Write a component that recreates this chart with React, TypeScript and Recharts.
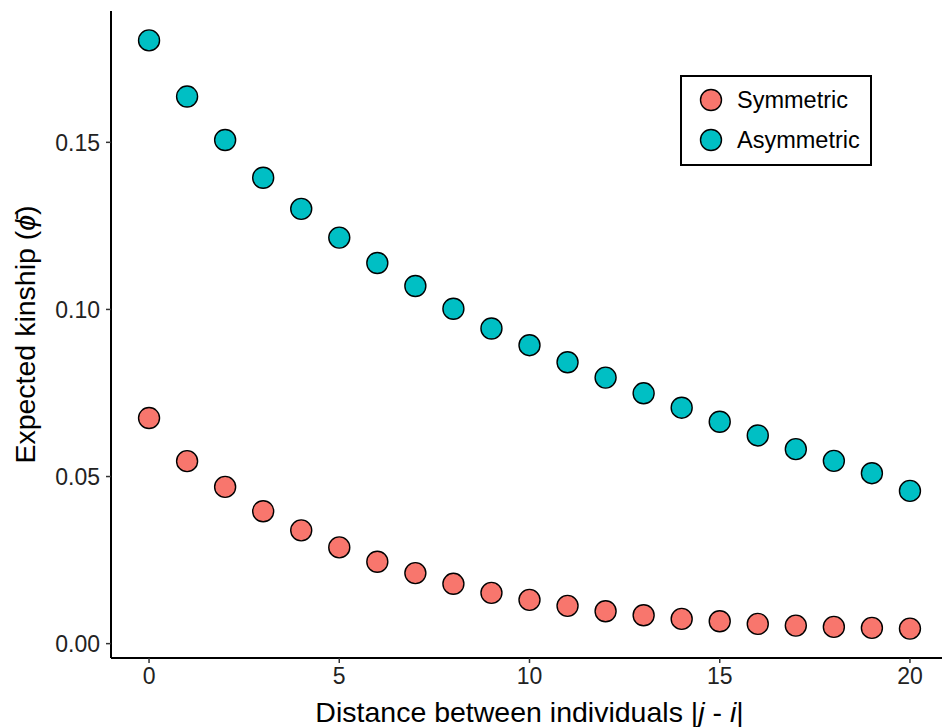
import { ScatterChart, Scatter, XAxis, YAxis, Legend, Label } from 'recharts';

// pairwise distance |j - i|
const distances = [0, 1, 2, 3, 4, 5, 6, 7, 8, 9, 10, 11, 12, 13, 14, 15, 16, 17, 18, 19, 20];

// expected kinship by dispersal model
const symmetric = [
  0.0675, 0.0546, 0.0469, 0.0396, 0.0339, 0.0288, 0.0245, 0.0211, 0.0179, 0.0152, 0.0131,
  0.0113, 0.0097, 0.0085, 0.0074, 0.0067, 0.0059, 0.0054, 0.005, 0.0047, 0.0045,
];
const asymmetric = [
  0.1805, 0.1637, 0.1507, 0.1394, 0.1301, 0.1215, 0.1139, 0.107, 0.1002, 0.0943, 0.0893,
  0.0842, 0.0796, 0.0749, 0.0706, 0.0664, 0.0623, 0.0582, 0.0547, 0.051, 0.0457,
];

const xTicks = [0, 5, 10, 15, 20];
const yTicks = [0, 0.05, 0.1, 0.15];

const SYM_COLOR = '#F8766D';
const ASYM_COLOR = '#00BFC4';
const FONT = '"Liberation Sans", Arial, sans-serif';

const symData = distances.map((d, i) => ({ x: d, y: symmetric[i] }));
const asymData = distances.map((d, i) => ({ x: d, y: asymmetric[i] }));

const Dot = (fill: string) => (props: any) => (
  <circle cx={props.cx} cy={props.cy} r={10.5} fill={fill} stroke="#000" strokeWidth={1.4} />
);

function LegendBox() {
  const items = [
    { name: 'Symmetric', color: SYM_COLOR },
    { name: 'Asymmetric', color: ASYM_COLOR },
  ];
  return (
    <svg width={192} height={91} style={{ display: 'block' }}>
      <rect x={1} y={1} width={190} height={89} fill="#fff" stroke="#000" strokeWidth={2} />
      {items.map((it, i) => (
        <g key={it.name}>
          <circle cx={31} cy={25 + i * 40} r={10.5} fill={it.color} stroke="#000" strokeWidth={1.4} />
          <text x={57} y={25 + i * 40} dy="0.36em" fontSize={23.5} fontFamily={FONT} fill="#000">
            {it.name}
          </text>
        </g>
      ))}
    </svg>
  );
}

export default function App() {
  return (
    <div style={{ position: 'absolute', left: 0, top: 0, width: 942, height: 727, overflow: 'hidden', background: '#fff' }}>
      <ScatterChart width={950} height={727} margin={{ top: 11, right: 2, bottom: 0, left: 0 }}>
        <XAxis
          type="number"
          dataKey="x"
          domain={[-1, 21]}
          ticks={xTicks}
          allowDataOverflow
          axisLine={{ stroke: '#000', strokeWidth: 2 }}
          tickLine={{ stroke: '#333', strokeWidth: 1.5 }}
          tickSize={5}
          tickMargin={5}
          tick={{ fontSize: 23, fontFamily: FONT, fill: '#222' }}
          height={69}
        >
          <Label
            content={({ viewBox }: any) => (
              <text
                x={viewBox.x + viewBox.width / 2}
                y={712}
                dy="0.36em"
                textAnchor="middle"
                fontSize={28.5}
                fontFamily={FONT}
                fill="#000"
              >
                Distance between individuals |<tspan fontStyle="italic">j</tspan> - <tspan fontStyle="italic">i</tspan>|
              </text>
            )}
          />
        </XAxis>
        <YAxis
          type="number"
          dataKey="y"
          domain={[-0.0043, 0.1893]}
          ticks={yTicks}
          allowDataOverflow
          tickFormatter={(v: number) => v.toFixed(2)}
          axisLine={{ stroke: '#000', strokeWidth: 2 }}
          tickLine={{ stroke: '#333', strokeWidth: 1.5 }}
          tickSize={5}
          tickMargin={6}
          tick={{ fontSize: 23, fontFamily: FONT, fill: '#222' }}
          width={111}
        >
          <Label
            content={({ viewBox }: any) => {
              const cy = viewBox.y + viewBox.height / 2;
              return (
                <text
                  x={25}
                  y={cy}
                  dy="0.36em"
                  textAnchor="middle"
                  transform={`rotate(-90 25 ${cy})`}
                  fontSize={28.5}
                  fontFamily={FONT}
                  fill="#000"
                >
                  Expected kinship (<tspan fontStyle="italic">ϕ̄</tspan>)
                </text>
              );
            }}
          />
        </YAxis>
        <Legend
          content={() => <LegendBox />}
          layout="vertical"
          verticalAlign="middle"
          align="center"
          wrapperStyle={{ left: 680, top: 75, width: 192, height: 91 }}
        />
        <Scatter name="Symmetric" data={symData} fill={SYM_COLOR} shape={Dot(SYM_COLOR)} isAnimationActive={false} />
        <Scatter name="Asymmetric" data={asymData} fill={ASYM_COLOR} shape={Dot(ASYM_COLOR)} isAnimationActive={false} />
      </ScatterChart>
    </div>
  );
}
